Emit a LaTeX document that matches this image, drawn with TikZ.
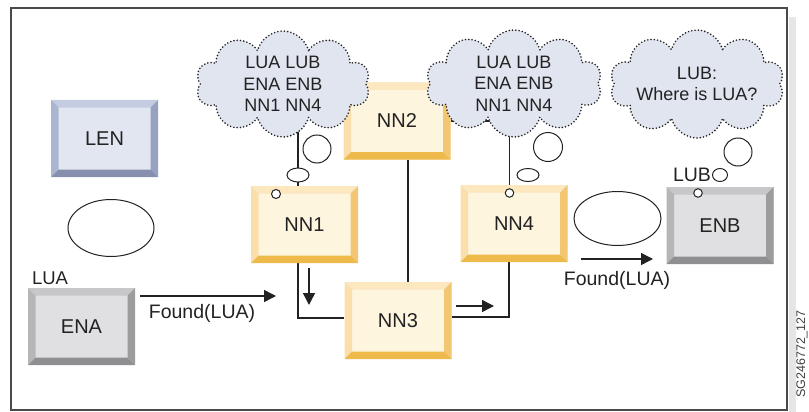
\documentclass[tikz,border=0pt]{standalone}
\usepackage{fontspec}
\setmainfont{Liberation Sans}
\usetikzlibrary{shapes.symbols,shapes.geometric,arrows.meta}
\pgfdeclarelayer{background}
\pgfsetlayers{background,main}
\definecolor{yface}{HTML}{FEF5DF}
\definecolor{ytop}{HTML}{FCE7BF}
\definecolor{yleft}{HTML}{FADFAC}
\definecolor{yright}{HTML}{F3C674}
\definecolor{ybot}{HTML}{EEBA4C}
\definecolor{bface}{HTML}{E2E6F1}
\definecolor{btop}{HTML}{C4CCE1}
\definecolor{bleft}{HTML}{AAB5D0}
\definecolor{bright}{HTML}{97A1C1}
\definecolor{bbot}{HTML}{878FAF}
\definecolor{gface}{HTML}{E0E0E2}
\definecolor{gtop}{HTML}{C7C7C9}
\definecolor{gleft}{HTML}{B6B6B8}
\definecolor{gright}{HTML}{9C9C9E}
\definecolor{gbot}{HTML}{8F8F91}
\definecolor{cloudfill}{HTML}{E1E5F0}
\definecolor{framegray}{HTML}{4A4A4A}
\definecolor{stripgray}{HTML}{E6E6E6}
\definecolor{inkc}{HTML}{222222}
\newcommand{\bw}{7.5pt}
\tikzset{
  bevel/.style n args={5}{draw=none, fill=#1, minimum width=107pt, minimum height=77pt,
    inner sep=0pt, text=inkc, font=\fontsize{20}{24}\selectfont,
    path picture={
      \path (path picture bounding box.north west) coordinate (pNW)
            (path picture bounding box.north east) coordinate (pNE)
            (path picture bounding box.south west) coordinate (pSW)
            (path picture bounding box.south east) coordinate (pSE);
      \fill[#2] (pNW) -- (pNE) -- ([shift={(-\bw,-\bw)}]pNE) -- ([shift={(\bw,-\bw)}]pNW) -- cycle;
      \fill[#3] (pNW) -- ([shift={(\bw,-\bw)}]pNW) -- ([shift={(\bw,\bw)}]pSW) -- (pSW) -- cycle;
      \fill[#4] (pNE) -- ([shift={(-\bw,-\bw)}]pNE) -- ([shift={(-\bw,\bw)}]pSE) -- (pSE) -- cycle;
      \fill[#5] (pSW) -- ([shift={(\bw,\bw)}]pSW) -- ([shift={(-\bw,\bw)}]pSE) -- (pSE) -- cycle;
    }},
  yellowbox/.style={bevel={yface}{ytop}{yleft}{yright}{ybot}},
  bluebox/.style={bevel={bface}{btop}{bleft}{bright}{bbot}},
  graybox/.style={bevel={gface}{gtop}{gleft}{gright}{gbot}},
  thought/.style={cloud, cloud puffs=10, cloud ignores aspect, fill=cloudfill, draw=inkc,
    line width=1.8pt, dash pattern=on 0pt off 3.3pt, line cap=round, inner sep=0pt,
    align=center, text=inkc, font=\fontsize{18}{21.5}\selectfont},
  bubble/.style={draw=inkc, fill=white, line width=1pt, inner sep=0pt},
  oval/.style={ellipse, draw=inkc, line width=1pt, inner sep=0pt},
  conn/.style={draw=inkc, line width=1.4pt},
  arr/.style={draw=inkc, line width=1.4pt, -{Triangle[length=12pt,width=12pt]}},
  lbl/.style={text=inkc, inner sep=0pt, font=\fontsize{18.5}{22}\selectfont},
}
\begin{document}
\begin{tikzpicture}[x=1pt,y=-1pt]
\useasboundingbox (0,0) rectangle (809,412);
\fill[stripgray] (789,17) rectangle (796,412);
\draw[framegray, line width=1.4pt] (11,8) rectangle (787,410);
\node[rotate=90, anchor=east, inner sep=0pt, text=black!75, font=\fontsize{12.5}{14}\selectfont] (code) at (802,310) {SG246772\_127};

% boxes
\node[bluebox] (LEN) at (104.5,138.5) {LEN};
\node[yellowbox] (NN2) at (397,121) {NN2};
\node[yellowbox] (NN1) at (304.5,224.5) {NN1};
\node[yellowbox] (NN3) at (398,320.5) {NN3};
\node[yellowbox] (NN4) at (514,223.5) {NN4};
\node[graybox] (ENB) at (720,225.5) {ENB};
\node[graybox] (ENA) at (81.5,326.5) {ENA};

% ovals
\node[oval, minimum width=86pt, minimum height=57pt] (O1) at (111,228) {};
\node[oval, minimum width=87pt, minimum height=54pt] (O2) at (617.5,218.5) {};

% labels
\node[lbl] (lua) at (50,278) {LUA};
\node[lbl, font=\fontsize{19.5}{22}\selectfont] (lub) at (692,175) {LUB};
\node[lbl, font=\fontsize{19.5}{22}\selectfont] (f1) at (202,313) {Found(LUA)};
\node[lbl, font=\fontsize{19.5}{22}\selectfont] (f2) at (617,280) {Found(LUA)};

% free arrows
\coordinate (a1s) at (140,296); \coordinate (a1e) at (276,296);
\coordinate (a2s) at (581,259); \coordinate (a2e) at (653,259);
\coordinate (a3s) at (309,268); \coordinate (a3e) at (309,305);
\coordinate (a4s) at (456,306); \coordinate (a4e) at (494,306);
\draw[arr] (a1s) -- (a1e);
\draw[arr] (a2s) -- (a2e);
\draw[arr] (a3s) -- (a3e);
\draw[arr] (a4s) -- (a4e);

% clouds
\node[thought, minimum width=174pt, minimum height=106pt] (C1) at (283,84) {LUA LUB\\ENA ENB\\NN1 NN4};
\node[thought, minimum width=176pt, minimum height=107pt] (C2) at (514,83.5) {LUA LUB\\ENA ENB\\NN1 NN4};
\node[thought, minimum width=173pt, minimum height=108pt] (C3) at (697,84) {LUB:\\Where is LUA?};

% bubbles
\node[bubble, circle, minimum size=28pt] (B1a) at (317,149) {};
\node[bubble, ellipse, minimum width=22pt, minimum height=14pt] (B1b) at (298,175) {};
\node[bubble, circle, minimum size=9pt] (B1c) at (276,194) {};
\node[bubble, circle, minimum size=29pt] (B2a) at (548,147) {};
\node[bubble, ellipse, minimum width=22pt, minimum height=13pt] (B2b) at (528,175) {};
\node[bubble, circle, minimum size=8.5pt] (B2c) at (509.5,193) {};
\node[bubble, circle, minimum size=28pt] (B3a) at (738,152) {};
\node[bubble, ellipse, minimum width=15pt, minimum height=13pt] (B3b) at (720,175) {};
\node[bubble, circle, minimum size=8.5pt] (B3c) at (698,193) {};

% connectors (behind)
\begin{pgfonlayer}{background}
\draw[conn] ([xshift=-6.5pt]NN1.south) |- ([yshift=2.5pt]NN3.west);
\draw[conn] ([yshift=3.5pt]NN3.east) -| ([xshift=-5pt]NN4.south);
\draw[conn] ([xshift=11pt]NN2.south) -- ([xshift=11pt]NN2.south |- NN3.north);
\draw[conn] (NN2.east) -- (NN2.east -| C2.center);
\draw[conn] (B1b |- C1.center) -- (B1b |- NN1.north);
\draw[conn] (B2c |- C2.center) -- (B2c |- NN4.north);
\end{pgfonlayer}
\end{tikzpicture}
\end{document}
